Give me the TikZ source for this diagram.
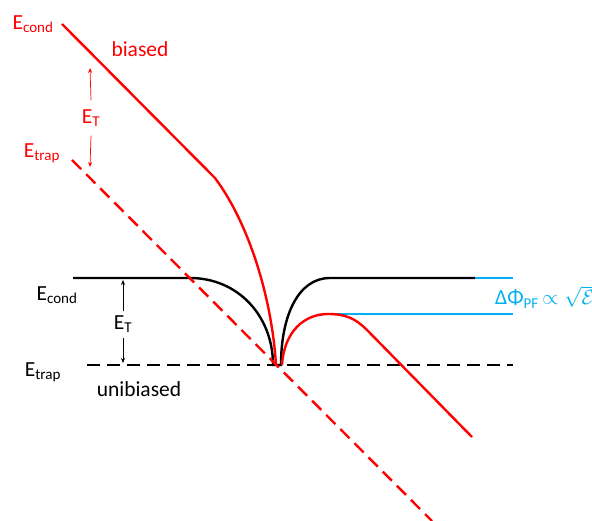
\documentclass[tikz,border=0pt]{standalone}
\usepackage{fontspec}
\setmainfont{Carlito}
\usetikzlibrary{arrows.meta,positioning}
\definecolor{bias}{RGB}{255,0,0}
\definecolor{sky}{RGB}{0,176,240}
\definecolor{ink}{RGB}{0,0,0}
\tikzset{
  >={Stealth[length=5pt,width=4pt]},
  band/.style={line width=2.4pt,draw=#1},
  band/.default=ink,
  trapline/.style={band=#1,dash pattern=on 13pt off 7pt},
  trapline/.default=ink,
  lbl/.style={text=#1,font=\fontsize{21.5}{24}\selectfont,inner sep=1pt},
  lbl/.default=ink,
  gap/.style={->,line width=0.7pt,draw=#1},
  gap/.default=ink,
}

\begin{document}
\begin{tikzpicture}[x=1pt,y=-1pt]
  \useasboundingbox (0,0) rectangle (592,521);
  % unbiased levels
  \draw[trapline] (87,365) coordinate (ut0) -- (513,365) coordinate (ut1);
  \draw[band] (73,278) coordinate (uc0) -- (190,278)
    .. controls (238,278) and (273,316) .. (273,365) coordinate (ub)
    -- (281,365)
    .. controls (281,316) and (298,278) .. (330,278) -- (475,278) coordinate (uc1);
  % biased levels
  \draw[trapline=bias] (72,160) coordinate (bt0) -- (432,521) coordinate (bt1);
  \draw[band=bias] (62,24) coordinate (bc0) -- (215,178)
    .. controls (250,225) and (272,300) .. (276,365);
  \draw[band=sky] (uc1) -- (513,278);
  \draw[band=sky] (328,314) coordinate (pk) -- (513,314);
  \draw[band=bias] (282,365)
    .. controls (284,332) and (304,314) .. (pk)
    .. controls (345,314) and (355,318) .. (367,330) -- (472,437) coordinate (bc1);
  % labels
  \node[lbl=bias] (rcond) at (33,24) {E\textsubscript{cond}};
  \node[lbl=bias] (rbias) at (140,49) {biased};
  \node[lbl=bias] (rET) at (91,118) {E\textsubscript{T}};
  \node[lbl=bias] (rtrap) at (42,153) {E\textsubscript{trap}};
  \node[lbl] (kcond) at (57,295) {E\textsubscript{cond}};
  \node[lbl] (kET) at (123,324) {E\textsubscript{T}};
  \node[lbl] (ktrap) at (43,372) {E\textsubscript{trap}};
  \node[lbl] (kunb) at (139,389) {unibiased};
  \node[lbl=sky,anchor=west] (dphi) at (494,297)
    {ΔΦ\textsubscript{PF}\,$\propto\sqrt{\mathcal{E}}$};
  % barrier arrows
  \coordinate (rtop) at (90,68);
  \coordinate (rbot) at (90,167);
  \coordinate (ktop) at (123,280);
  \coordinate (kbot) at (123,363);
  \draw[gap=bias] ([yshift=8pt]rET.north) -- (rtop);
  \draw[gap=bias] ([yshift=-8pt]rET.south) -- (rbot);
  \draw[gap] ([yshift=3pt]kET.north) -- (ktop);
  \draw[gap] ([yshift=-4pt]kET.south) -- (kbot);
\end{tikzpicture}
\end{document}
